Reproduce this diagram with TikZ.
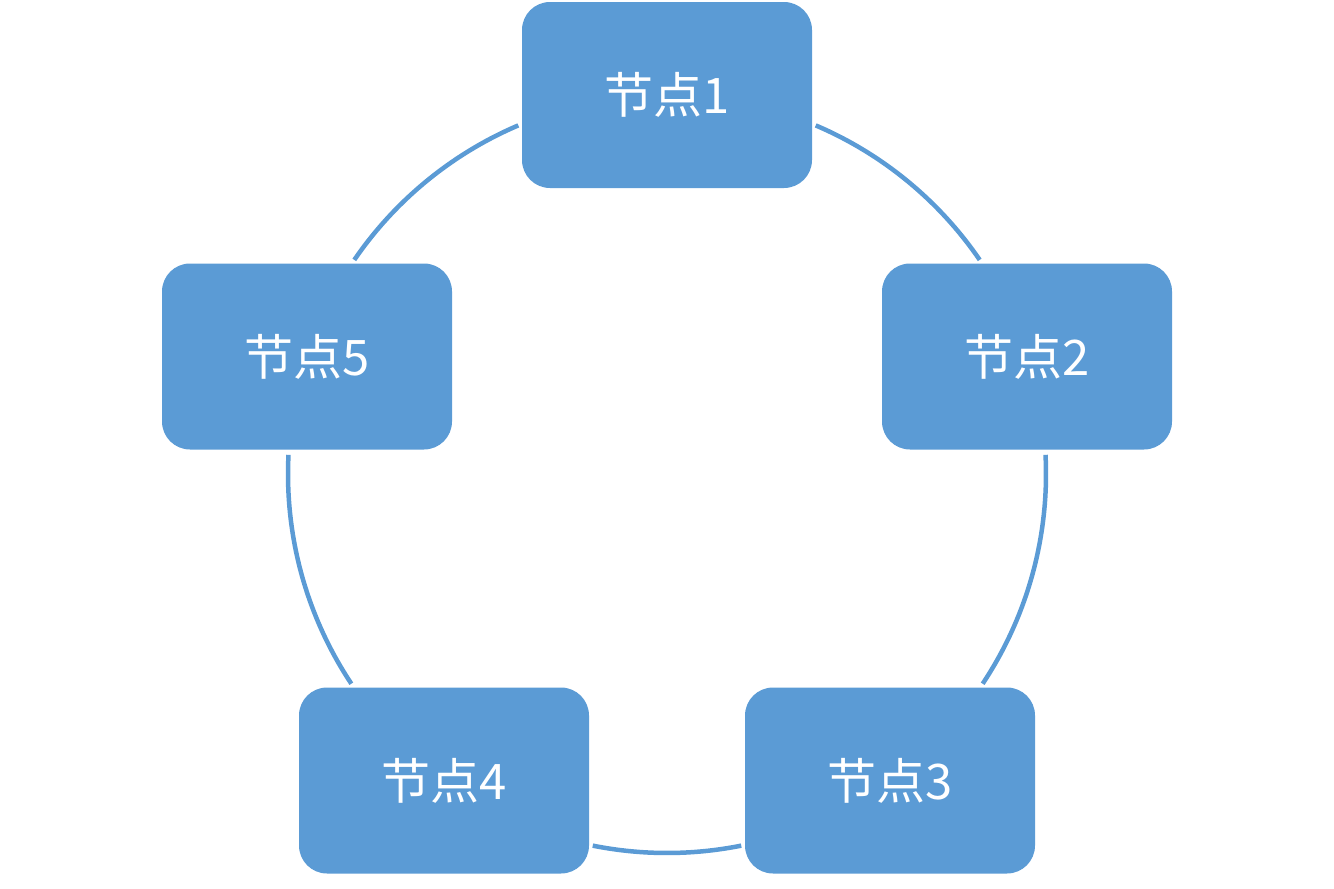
\documentclass[tikz,border=0pt]{standalone}
\usepackage{fontspec}
\newfontfamily\cjk{Noto Sans CJK SC}
\definecolor{boxblue}{HTML}{5B9BD5}
\tikzset{
  cyclebox/.style={fill=boxblue, draw=none, rounded corners=28pt, minimum width=290pt, minimum height=186pt, inner sep=0pt, text=white, font=\cjk\fontsize{49pt}{54pt}\selectfont},
  cyclearc/.style={draw=boxblue, line width=4.5pt}
}
\begin{document}
\begin{tikzpicture}[x=1pt,y=1pt]
\useasboundingbox (0,0) rectangle (1334,-889);
\coordinate (c) at (667,-474);
\node[cyclebox] (n1) at (667,-95) {节点1};
\node[cyclebox] (n2) at (1027,-356.5) {节点2};
\node[cyclebox] (n3) at (890,-780.5) {节点3};
\node[cyclebox] (n4) at (444,-780.5) {节点4};
\node[cyclebox] (n5) at (307,-356.5) {节点5};
\draw[cyclearc] (c) ++(66.9:379) arc[start angle=66.9, end angle=34.4, radius=379];
\draw[cyclearc] (c) ++(2.9:379) arc[start angle=2.9, end angle=-33.6, radius=379];
\draw[cyclearc] (c) ++(-78.7:379) arc[start angle=-78.7, end angle=-101.3, radius=379];
\draw[cyclearc] (c) ++(-146.4:379) arc[start angle=-146.4, end angle=-182.9, radius=379];
\draw[cyclearc] (c) ++(145.6:379) arc[start angle=145.6, end angle=113.1, radius=379];
\end{tikzpicture}
\end{document}
